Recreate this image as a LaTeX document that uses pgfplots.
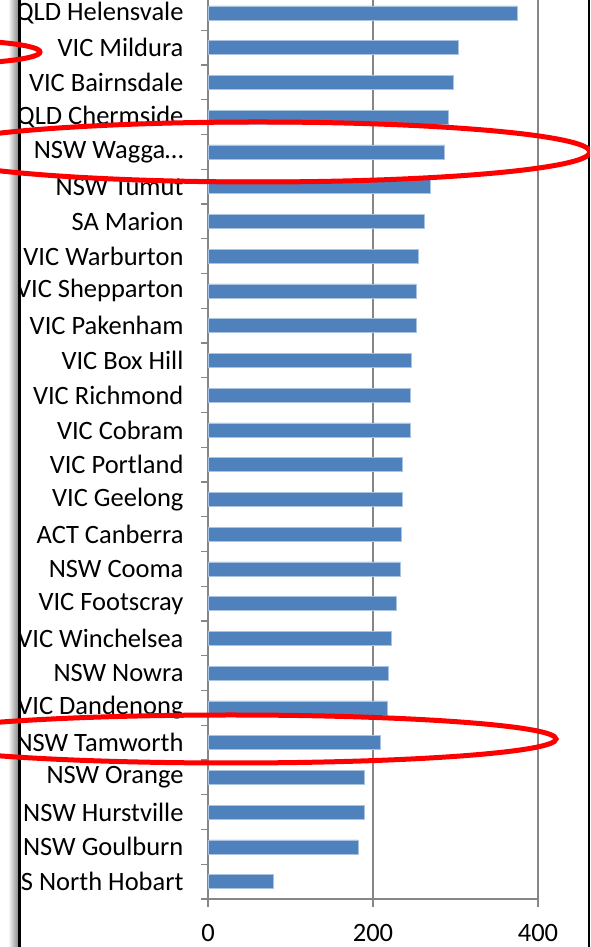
\documentclass[border=0pt]{standalone}
\usepackage{pgfplots}
\pgfplotsset{compat=1.18}
\usepackage{fontspec}
\setmainfont{Carlito}
\definecolor{barblue}{RGB}{79,129,189}
\definecolor{baredge}{RGB}{170,195,225}
\definecolor{axgray}{RGB}{134,134,134}
\begin{document}
\begin{tikzpicture}[x=1pt,y=1pt]
\useasboundingbox (0,0) rectangle (590,947);
\clip (0,0) rectangle (590,947);
\begin{axis}[
  at={(208pt,48pt)}, anchor=south west,
  scale only axis, width=330pt, height=903.4pt,
  xmin=0, xmax=400, ymin=-0.5, ymax=25.5,
  xbar, bar width=14pt,
  axis x line*=bottom, axis y line*=left,
  axis line style={axgray, line width=1.2pt},
  xtick={0,200,400},
  xmajorgrids, grid style={axgray, line width=1.4pt},
  ytick={0,...,25},
  minor ytick={-0.5,0.5,...,25.5},
  tick align=outside,
  major tick length=8pt, minor tick length=7pt,
  every major y tick/.append style={draw=none},
  every tick/.append style={axgray, line width=1.2pt},
  every minor tick/.append style={axgray, line width=1.2pt},
  /pgf/number format/assume math mode=true,
  tick label style={font=\fontsize{26.5}{30}\selectfont, text=black},
  yticklabel style={anchor=east, xshift=-13pt, yshift=0pt},
  xticklabel style={yshift=-14pt},
  yticklabels={TAS North Hobart, NSW Goulburn, NSW Hurstville, NSW Orange, NSW Tamworth, VIC Dandenong, NSW Nowra, VIC Winchelsea, VIC Footscray, NSW Cooma, ACT Canberra, VIC Geelong, VIC Portland, VIC Cobram, VIC Richmond, VIC Box Hill, VIC Pakenham, VIC Shepparton, VIC Warburton, SA Marion, NSW Tumut, NSW Wagga…, QLD Chermside, VIC Bairnsdale, VIC Mildura, QLD Helensvale},
]
\addplot[fill=barblue, draw=baredge, line width=0.6pt] coordinates {
(79,0) (182,1) (190,2) (190,3) (209,4) (217,5) (219,6) (222,7) (228,8) (233,9)
(234,10) (235,11) (236,12) (245,13) (245,14) (246,15) (252,16) (252,17) (255,18) (262,19)
(269,20) (287,21) (291,22) (297,23) (303,24) (375,25)
};
\end{axis}
% left frame strip
\fill[white] (0,0) rectangle (18,947);
\shade[left color=white, right color=black!45] (8,0) rectangle (18,947);
\fill[black] (18,0) rectangle (21,947);
% right frame line
\fill[black] (587.5,0) rectangle (589.5,947);
% red annotation ellipses
\draw[red, line width=5pt] (-60,895) ellipse [x radius=100, y radius=12];
\draw[red, line width=5pt] (258,795) ellipse [x radius=332, y radius=30];
\draw[red, line width=5pt] (231,208) ellipse [x radius=325, y radius=24];
\end{tikzpicture}
\end{document}
